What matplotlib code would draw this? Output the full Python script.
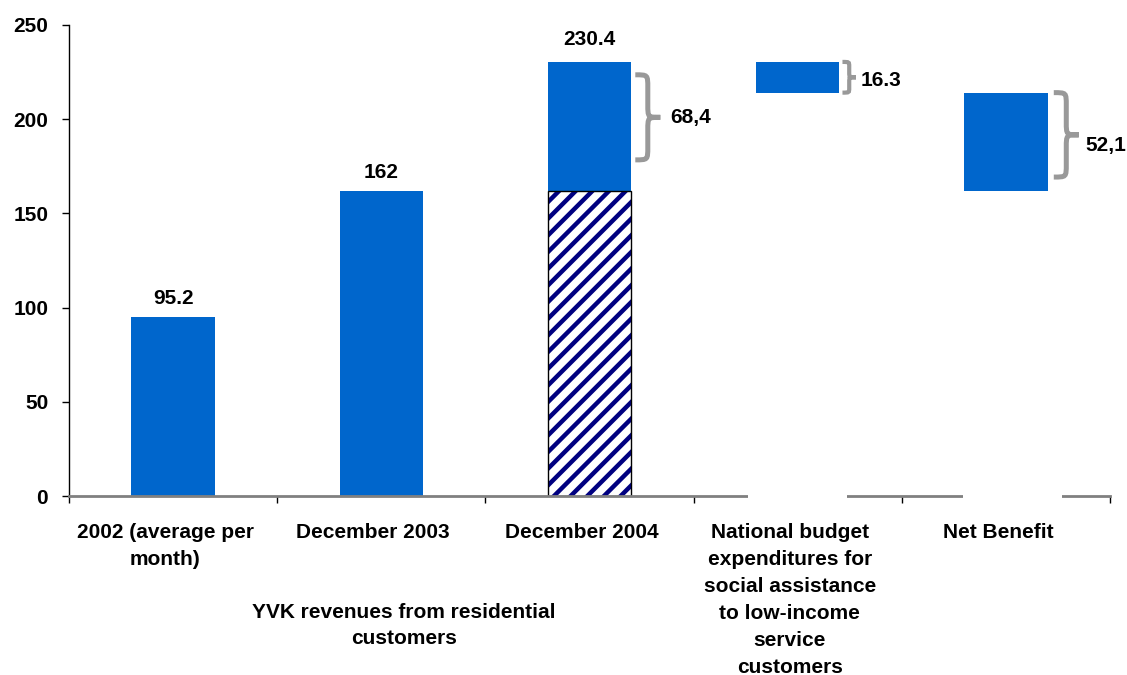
import matplotlib

matplotlib.use("Agg")
import matplotlib.pyplot as plt
import numpy as np
from matplotlib.patches import PathPatch
from matplotlib.path import Path
from matplotlib.transforms import ScaledTranslation

plt.rcParams["font.family"] = ["Liberation Sans", "DejaVu Sans"]
plt.rcParams["font.weight"] = "bold"
plt.rcParams["font.size"] = 15
plt.rcParams["hatch.linewidth"] = 3.2

categories = [
    "2002 (average per\nmonth)",
    "December 2003",
    "December 2004",
    "National budget\nexpenditures for\nsocial assistance\nto low-income\nservice\ncustomers",
    "Net Benefit",
]
group_label = "YVK revenues from residential\ncustomers"

revenues = [95.2, 162.0, 230.4]
revenue_labels = ["95.2", "162", "230.4"]
increase_2004 = 68.4
social_assistance = 16.3
net_benefit = 52.1
brace_labels = ["68,4", "16.3", "52,1"]

BLUE = "#0066CC"
NAVY = "#000080"
BRACE_GREY = "#999999"
BAR_WIDTH = 0.4
FS = 15


def draw_brace(ax, x0, y0, y1, width, linewidth):
    """Right-facing curly brace from y0 to y1, starting at x0."""
    xm = x0 + width / 2
    tip = x0 + width
    ymid = (y0 + y1) / 2
    r = 0.3 * (y1 - y0) / 2
    verts = [
        (x0, y1), (xm, y1), (xm, y1), (xm, y1 - r),
        (xm, ymid + r),
        (xm, ymid), (xm, ymid), (tip, ymid),
        (xm, ymid), (xm, ymid), (xm, ymid - r),
        (xm, y0 + r),
        (xm, y0), (xm, y0), (x0, y0),
    ]
    codes = [Path.MOVETO, Path.CURVE4, Path.CURVE4, Path.CURVE4,
             Path.LINETO,
             Path.CURVE4, Path.CURVE4, Path.CURVE4,
             Path.CURVE4, Path.CURVE4, Path.CURVE4,
             Path.LINETO,
             Path.CURVE4, Path.CURVE4, Path.CURVE4]
    ax.add_patch(PathPatch(Path(verts, codes), facecolor="none", edgecolor=BRACE_GREY,
                           linewidth=linewidth, capstyle="butt", zorder=4, clip_on=False))
    return tip, ymid


fig = plt.figure(figsize=(11.27, 6.75), dpi=100)
ax = fig.add_axes([69 / 1127, 1 - 496 / 675, (1110 - 69) / 1127, 471 / 675])
x = np.arange(len(categories))

# plain revenue bars
ax.bar(x[:2], revenues[:2], width=BAR_WIDTH, color=BLUE, zorder=2)

# December 2004: old level hatched, tariff increase on top
base_2004 = revenues[2] - increase_2004
ax.bar(x[2], base_2004, width=BAR_WIDTH, facecolor="white", edgecolor=NAVY,
       hatch="//", linewidth=0, zorder=2)
ax.bar(x[2], base_2004, width=BAR_WIDTH, fill=False, edgecolor="black", linewidth=1, zorder=2.1)
ax.bar(x[2], increase_2004, bottom=base_2004, width=BAR_WIDTH, color=BLUE, zorder=2)

# waterfall steps: assistance comes off the top, what is left is the net benefit
assist_bottom = revenues[2] - social_assistance
ax.bar(x[3], social_assistance, bottom=assist_bottom, width=BAR_WIDTH, color=BLUE, zorder=2)
ax.bar(x[4], net_benefit, bottom=base_2004, width=BAR_WIDTH, color=BLUE, zorder=2)
# invisible base bars (they blank out the axis line underneath)
ax.bar(x[3:] + np.array([0.0, 0.03]), [assist_bottom + 2, base_2004 + 2], bottom=-2,
       width=0.475, color="white", zorder=2.6, clip_on=False)

# value labels above revenue bars
for xi, val, lab, dy in zip(x[:3], revenues, revenue_labels, [9, 9, 12.5]):
    ax.annotate(lab, (xi, val), xytext=(0, dy), textcoords="offset points",
                ha="center", va="baseline", fontsize=FS, fontweight="bold")

# braces with difference labels
half = BAR_WIDTH / 2
brace_specs = [
    (x[2] + half + 0.02, base_2004 + 0.24 * increase_2004, revenues[2] - 0.1 * increase_2004,
     0.12, 3.6, (7, 0)),
    (x[3] + half + 0.015, assist_bottom, revenues[2], 0.065, 3.0, (3, -2)),
    (x[4] + half + 0.03, base_2004 + 0.14 * net_benefit, base_2004 + net_benefit,
     0.12, 3.6, (5, -8)),
]
for (bx, y0, y1, w, lw, off), lab in zip(brace_specs, brace_labels):
    tip, ymid = draw_brace(ax, bx, y0, y1, w, lw)
    ax.annotate(lab, (tip, ymid), xytext=off, textcoords="offset points",
                ha="left", va="center", fontsize=FS, fontweight="bold", annotation_clip=False)

ax.set_xlim(-0.5, len(categories) - 0.5)
ax.set_ylim(0, 250)
ax.set_yticks(np.arange(0, 251, 50))
ax.set_xticks(x, categories, linespacing=1.53)
ax.set_xticks(np.arange(-0.5, len(categories), 1), minor=True)
ax.tick_params(axis="x", which="major", length=0, pad=19.5, labelsize=FS)
ax.tick_params(axis="x", which="minor", length=5, width=1, color="black", direction="out")
ax.tick_params(axis="y", length=5, width=1, color="black", pad=10, labelsize=FS)
for lab in ax.get_xticklabels():
    lab.set_fontweight("bold")
    lab.set_transform(lab.get_transform() + ScaledTranslation(-0.08, 0, fig.dpi_scale_trans))
for lab in ax.get_yticklabels():
    lab.set_fontweight("bold")

for side in ("top", "right"):
    ax.spines[side].set_visible(False)
ax.spines["left"].set_color("black")
ax.spines["left"].set_linewidth(1)
ax.spines["bottom"].set_color("#808080")
ax.spines["bottom"].set_linewidth(2)

fig.text(404 / 1127, 1 - 603 / 675, group_label, ha="center", va="top",
         fontsize=FS, fontweight="bold", linespacing=1.45)

fig.savefig("out.png", dpi=100)
plt.close(fig)
